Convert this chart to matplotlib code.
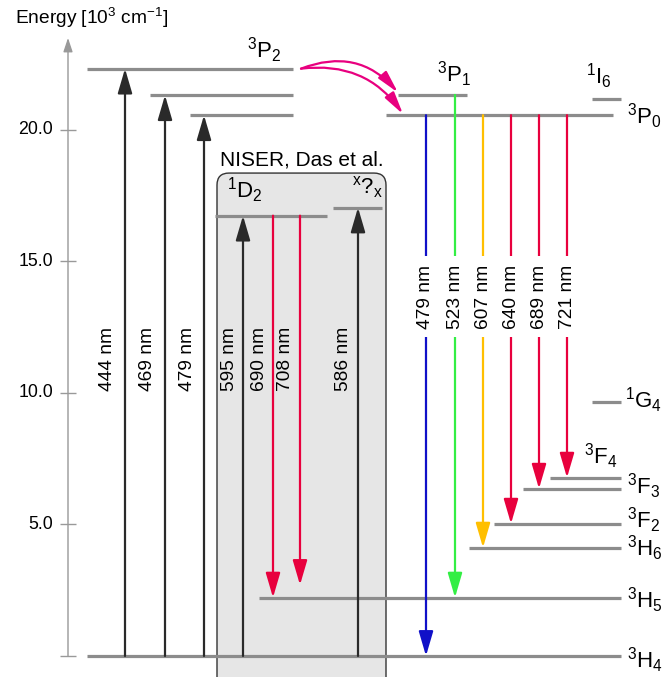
import matplotlib.pyplot as plt
from matplotlib.patches import FancyBboxPatch

plt.rcParams['font.family'] = ['Liberation Sans', 'DejaVu Sans']
plt.rcParams['mathtext.fontset'] = 'custom'
plt.rcParams['mathtext.rm'] = 'Liberation Sans'
plt.rcParams['mathtext.it'] = 'Liberation Sans:italic'

# energy levels [10^3 cm^-1]
level_labels = ['$^3$P$_2$', '', '', '$^3$P$_1$', '$^3$P$_0$', '$^1$I$_6$',
                '$^1$D$_2$', r'$^\mathrm{x}$?$_\mathrm{x}$', '$^1$G$_4$',
                '$^3$F$_4$', '$^3$F$_3$', '$^3$F$_2$', '$^3$H$_6$',
                '$^3$H$_5$', '$^3$H$_4$']
level_energy = [22.33, 21.32, 20.56, 21.33, 20.56, 21.19, 16.74, 17.05,
                9.67, 6.78, 6.36, 5.03, 4.12, 2.22, 0.0]

# excitation (absorption) lines
exc_nm = [444, 469, 479]
exc_top = [22.33, 21.32, 20.56]

# NISER / Das et al. transitions
niser_nm = [595, 690, 708, 586]
niser_from = [0.0, 16.74, 16.74, 0.0]
niser_to = [16.74, 2.22, 2.70, 17.05]

# emission lines
em_nm = [479, 523, 607, 640, 689, 721]
em_from = [20.56, 21.33, 20.56, 20.56, 20.56, 20.56]
em_to = [0.0, 2.22, 4.12, 5.03, 6.36, 6.78]

y_ticks = [0, 5, 10, 15, 20]

# ---- layout (pixel-like x units) ----
level_x = [(87, 293), (150, 293), (190, 293), (398, 467), (386, 613),
           (592, 621), (215, 327), (333, 382), (592, 621), (550, 621),
           (523, 621), (494, 621), (469, 621), (259, 621), (87, 621)]
label_pos = [(247, 22.73), None, None, (437, 21.83), (627, 20.24),
             (586, 21.75), (227, 17.42), (352, 17.56), (625, 9.44),
             (584, 7.32), (627, 6.17), (627, 4.85), (627, 3.79),
             (627, 1.81), (627, -0.47)]
exc_x = [125, 165, 204]
niser_x = [243, 273, 300, 358]
niser_colors = ['#2a2a2a', '#e8003d', '#e8003d', '#2a2a2a']
em_x = [426, 455, 483, 511, 539, 567]
em_colors = ['#1010c8', '#33ee44', '#ffbf00', '#e8003d', '#e8003d', '#e8003d']

grey = '#8c8c8c'
dark = '#2a2a2a'

fig = plt.figure(figsize=(6.64, 6.77), dpi=100)
ax = fig.add_axes([0, 0, 1, 1])
ax.set_xlim(0, 664)
ax.set_ylim(-0.80, 24.94)
ax.axis('off')


def arrow(x, y0, y1, color, lw=1.6):
    ax.annotate('', xy=(x, y1), xytext=(x, y0),
                arrowprops=dict(arrowstyle='-|>,head_length=0.75,head_width=0.22',
                                color=color, lw=lw, shrinkA=0, shrinkB=0,
                                mutation_scale=20), zorder=4)


# NISER box
box = FancyBboxPatch((217, -1.5), 169, 18.36 + 1.5,
                     boxstyle='round,pad=0,rounding_size=12',
                     mutation_aspect=1 / 26.3, fc='#e6e6e6', ec='#333333',
                     lw=1.0, zorder=0)
ax.add_patch(box)
ax.text(302, 18.85, 'NISER, Das et al.', fontsize=15, ha='center',
        va='center')

# y axis
ax.annotate('', xy=(68, 23.5), xytext=(68, 0),
            arrowprops=dict(arrowstyle='-|>,head_length=0.6,head_width=0.2',
                            color='#999999', lw=1.0, shrinkA=0, shrinkB=0,
                            mutation_scale=14))
ax.hlines(y_ticks, 60, 76, color='#999999', lw=1.0)
for t in y_ticks[1:]:
    ax.text(53, t, f'{t:.1f}', fontsize=12.8, ha='right', va='center')
ax.text(15, 24.25, 'Energy [10$^3$ cm$^{-1}$]', fontsize=13.8, ha='left',
        va='center')

# energy levels
for (x0, x1), e, lab, pos in zip(level_x, level_energy, level_labels, label_pos):
    ax.hlines(e, x0, x1, color=grey, lw=2.3, zorder=2)
    if pos is not None:
        ax.text(pos[0], pos[1], lab, fontsize=16, ha='left', va='baseline')

# excitation arrows
for x, top, nm in zip(exc_x, exc_top, exc_nm):
    arrow(x, 0.0, top, dark)
    ax.text(x - 17, 11.3, f'{nm} nm', rotation=90, fontsize=13.8,
            ha='center', va='center')

for x, e0, e1, nm, c in zip(niser_x, niser_from, niser_to, niser_nm,
                            niser_colors):
    arrow(x, e0, e1, c)
    ax.text(x - 14, 11.3, f'{nm} nm', rotation=90, fontsize=13.8,
            ha='center', va='center')

# emission arrows
for x, e0, e1, nm, c in zip(em_x, em_from, em_to, em_nm, em_colors):
    arrow(x, e0, e1, c)
    ax.text(x, 13.66, f'{nm} nm', rotation=90, fontsize=13.8,
            ha='center', va='center', zorder=5,
            bbox=dict(fc='white', ec='none', pad=6))

# relaxation 3P2 -> 3P1 / 3P0
for xe, ye, rad in [(398, 21.42, -0.35), (403, 20.60, -0.3)]:
    ax.annotate('', xy=(xe, ye), xytext=(301, 22.33),
                arrowprops=dict(arrowstyle='-|>,head_length=0.75,head_width=0.18',
                                color='#e8007f', lw=1.6, shrinkA=0, shrinkB=0,
                                mutation_scale=18,
                                connectionstyle=f'arc3,rad={rad}'),
                zorder=4)

fig.savefig('out.png', dpi=100)
